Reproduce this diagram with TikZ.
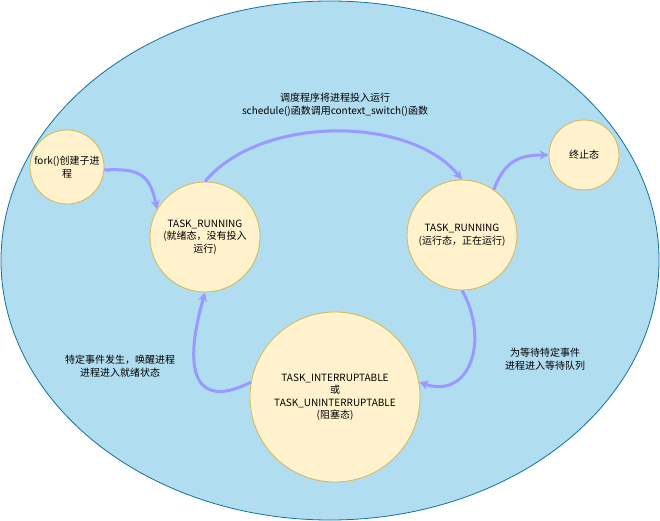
\documentclass[tikz,border=0pt]{standalone}
\usepackage{fontspec}
\setmainfont{Noto Sans CJK SC}
\usetikzlibrary{arrows.meta,shapes.geometric}
\definecolor{bgfill}{HTML}{B1DDF0}
\definecolor{bgline}{HTML}{10739E}
\definecolor{cfill}{HTML}{FFF2CC}
\definecolor{cline}{HTML}{D6B656}
\definecolor{arr}{HTML}{9999FF}
\tikzset{
  st/.style={circle,draw=cline,fill=cfill,line width=0.8pt,align=center,inner sep=0pt,font=\fontsize{10}{12.5}\selectfont},
  tr/.style={draw=arr,line width=3pt,-{Stealth[length=9pt,width=9pt]}},
  lbl/.style={align=center,font=\fontsize{10}{12.5}\selectfont}
}
\begin{document}
\begin{tikzpicture}[x=1pt,y=-1pt]
\useasboundingbox (0,0) rectangle (660,521);
\node[ellipse,draw=bgline,fill=bgfill,line width=0.8pt,minimum width=658pt,minimum height=519pt] (bg) at (330,260.5) {};
\node[st,minimum size=74pt] (fork) at (67,167) {fork()创建子进\\程};
\node[st,minimum size=110pt] (ready) at (205,237) {TASK\_RUNNING\\(就绪态，没有投入\\运行)};
\node[st,minimum size=110pt] (run) at (462,235) {TASK\_RUNNING\\(运行态，正在运行)};
\node[st,minimum size=70pt] (end) at (584,155) {终止态};
\node[st,minimum size=170pt] (blk) at (335,397) {TASK\_INTERRUPTABLE\\或\\TASK\_UNINTERRUPTABLE\\(阻塞态)};
\draw[tr] (fork.east |- 0,170) .. controls (140,168) and (150,175) .. (ready.150);
\draw[tr] (ready.north) .. controls (260,115) and (410,115) .. (run.north);
\draw[tr] (run.55) .. controls (505,160) and (520,155) .. (end.west);
\draw[tr] (run.south) .. controls (490,340) and (470,400) .. (blk.10);
\draw[tr] (blk.170) .. controls (200,408) and (180,380) .. (ready.south);
\node[lbl] (l1) at (335,105) {调度程序将进程投入运行\\schedule()函数调用context\_switch()函数};
\node[lbl] (l2) at (545,359) {为等待特定事件\\进程进入等待队列};
\node[lbl] (l3) at (120,366) {特定事件发生，唤醒进程\\进程进入就绪状态};
\end{tikzpicture}
\end{document}
